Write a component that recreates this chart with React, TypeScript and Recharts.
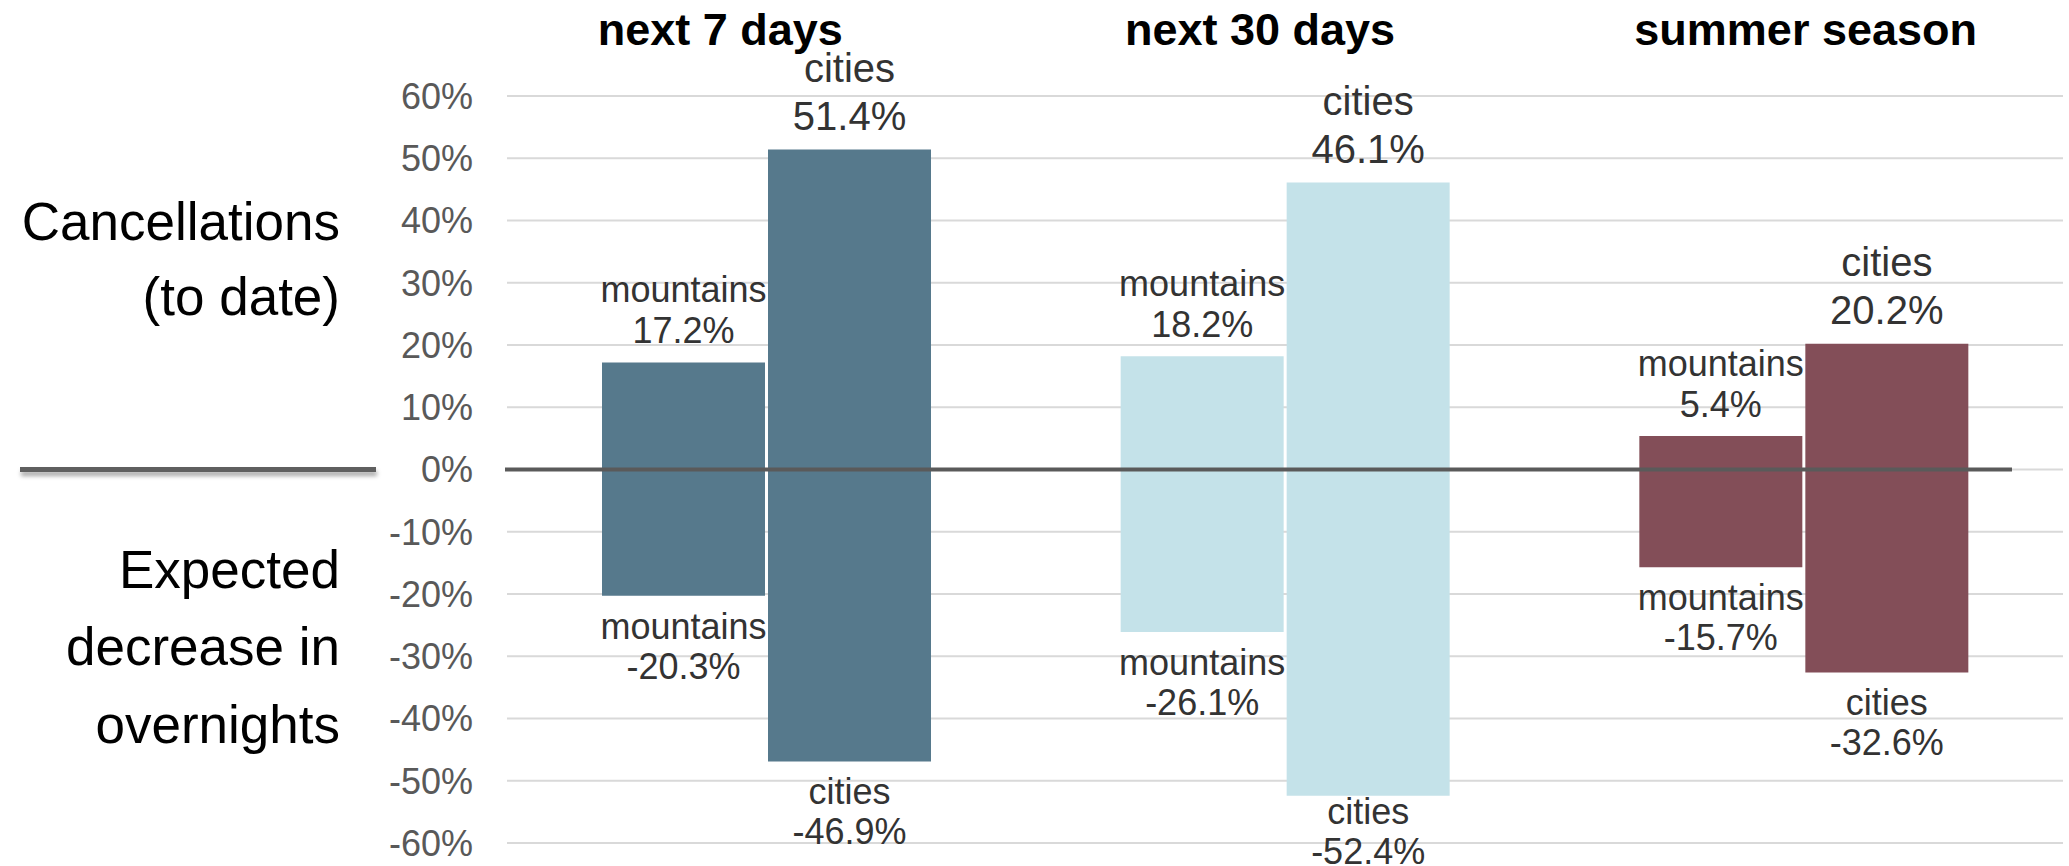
import { BarChart, Bar, XAxis, YAxis, CartesianGrid, ReferenceLine, LabelList, Cell } from 'recharts'

const periods = ['next 7 days', 'next 30 days', 'summer season']
const mountainsCancel = [17.2, 18.2, 5.4]
const citiesCancel = [51.4, 46.1, 20.2]
const mountainsDrop = [-20.3, -26.1, -15.7]
const citiesDrop = [-46.9, -52.4, -32.6]
const yTicks = [60, 50, 40, 30, 20, 10, 0, -10, -20, -30, -40, -50, -60]

// one colour per period
const PERIOD_COLORS = ['#56798C', '#C4E2E9', '#834E58']
const TITLE_SHIFT = [-46, -25, 2]
const FONT = '"Liberation Sans", Arial, Helvetica, sans-serif'
const LABEL_COLOR = '#333333'

const chartData = periods.map((period, i) => ({
    period,
    mountainsCancel: mountainsCancel[i],
    citiesCancel: citiesCancel[i],
    mountainsDrop: mountainsDrop[i],
    citiesDrop: citiesDrop[i],
}))

const fmt = (v: number) => `${v.toFixed(1)}%`

const PeriodTick = ({ x, y, payload, index }: any) => (
    <text
        x={x + (TITLE_SHIFT[index] ?? 0)}
        y={y}
        textAnchor="middle"
        fontFamily={FONT}
        fontSize={45}
        fontWeight="bold"
        fill="#000"
    >
        {payload.value}
    </text>
)

// name + value stacked above a positive bar
const upLabel = (name: string, values: number[], size: number, gap: number, lift: number) => (props: any) => {
    const { x, y, width, height, index } = props
    const top = Math.min(y, y + height)
    const cx = x + width / 2
    return (
        <g fontFamily={FONT} fontSize={size} fill={LABEL_COLOR} textAnchor="middle">
            <text x={cx} y={top - lift - gap}>{name}</text>
            <text x={cx} y={top - lift}>{fmt(values[index])}</text>
        </g>
    )
}

// name + value below a negative bar, squeezed near the bottom edge
const downLabel = (name: string, values: number[]) => (props: any) => {
    const { x, y, width, height, index } = props
    const bottom = Math.max(y, y + height)
    const cx = x + width / 2
    const nameY = Math.min(bottom + 43, 824)
    return (
        <g fontFamily={FONT} fontSize={36} fill={LABEL_COLOR} textAnchor="middle">
            <text x={cx} y={nameY}>{name}</text>
            <text x={cx} y={nameY + 40}>{fmt(values[index])}</text>
        </g>
    )
}

const sideNotes = [
    { text: 'Cancellations', y: 240 },
    { text: '(to date)', y: 315 },
    { text: 'Expected', y: 588 },
    { text: 'decrease in', y: 665 },
    { text: 'overnights', y: 743 },
]

const ZeroLine = ({ x1, x2, y1 }: any) => (
    <g>
        <defs>
            <filter id="zero-shadow" x="-5%" y="-100%" width="110%" height="400%">
                <feDropShadow dx="1" dy="4" stdDeviation="2" floodColor="#000" floodOpacity="0.35" />
            </filter>
        </defs>
        <rect x={20} y={y1 - 2.5} width={356} height={5} fill="#5f5f5f" filter="url(#zero-shadow)" />
        <line x1={x1 - 2} x2={x2 - 51} y1={y1} y2={y1} stroke="#5a5a5a" strokeWidth={4} />
        {sideNotes.map((n) => (
            <text key={n.text} x={340} y={n.y} textAnchor="end" fontFamily={FONT} fontSize={53} fill="#000">
                {n.text}
            </text>
        ))}
    </g>
)

export default function App() {
    return (
        <div style={{ position: 'absolute', left: 0, top: 0, background: '#fff' }}>
            <BarChart
                width={2069}
                height={866}
                data={chartData}
                stackOffset="sign"
                barSize={163}
                barGap={3}
                margin={{ top: 0, right: 6, bottom: 23, left: 387 }}
            >
                <CartesianGrid horizontal vertical={false} stroke="#D9D9D9" strokeWidth={2} />
                <XAxis
                    dataKey="period"
                    orientation="top"
                    height={96}
                    axisLine={false}
                    tickLine={false}
                    tickSize={0}
                    tickMargin={51}
                    tick={<PeriodTick />}
                    interval={0}
                />
                <YAxis
                    width={120}
                    domain={[-60, 60]}
                    ticks={yTicks}
                    interval={0}
                    axisLine={false}
                    tickLine={false}
                    tickSize={0}
                    tickMargin={34}
                    tickFormatter={(v: number) => `${v}%`}
                    tick={{ fontFamily: FONT, fontSize: 36, fill: '#595959' }}
                />
                <Bar dataKey="mountainsCancel" stackId="m" isAnimationActive={false}>
                    {chartData.map((_, i) => <Cell key={`mc-${i}`} fill={PERIOD_COLORS[i]} />)}
                    <LabelList content={upLabel('mountains', mountainsCancel, 36, 41, 19)} />
                </Bar>
                <Bar dataKey="mountainsDrop" stackId="m" isAnimationActive={false}>
                    {chartData.map((_, i) => <Cell key={`md-${i}`} fill={PERIOD_COLORS[i]} />)}
                    <LabelList content={downLabel('mountains', mountainsDrop)} />
                </Bar>
                <Bar dataKey="citiesCancel" stackId="c" isAnimationActive={false}>
                    {chartData.map((_, i) => <Cell key={`cc-${i}`} fill={PERIOD_COLORS[i]} />)}
                    <LabelList content={upLabel('cities', citiesCancel, 40, 48, 20)} />
                </Bar>
                <Bar dataKey="citiesDrop" stackId="c" isAnimationActive={false}>
                    {chartData.map((_, i) => <Cell key={`cd-${i}`} fill={PERIOD_COLORS[i]} />)}
                    <LabelList content={downLabel('cities', citiesDrop)} />
                </Bar>
                <ReferenceLine y={0} ifOverflow="visible" shape={<ZeroLine />} />
            </BarChart>
        </div>
    )
}
